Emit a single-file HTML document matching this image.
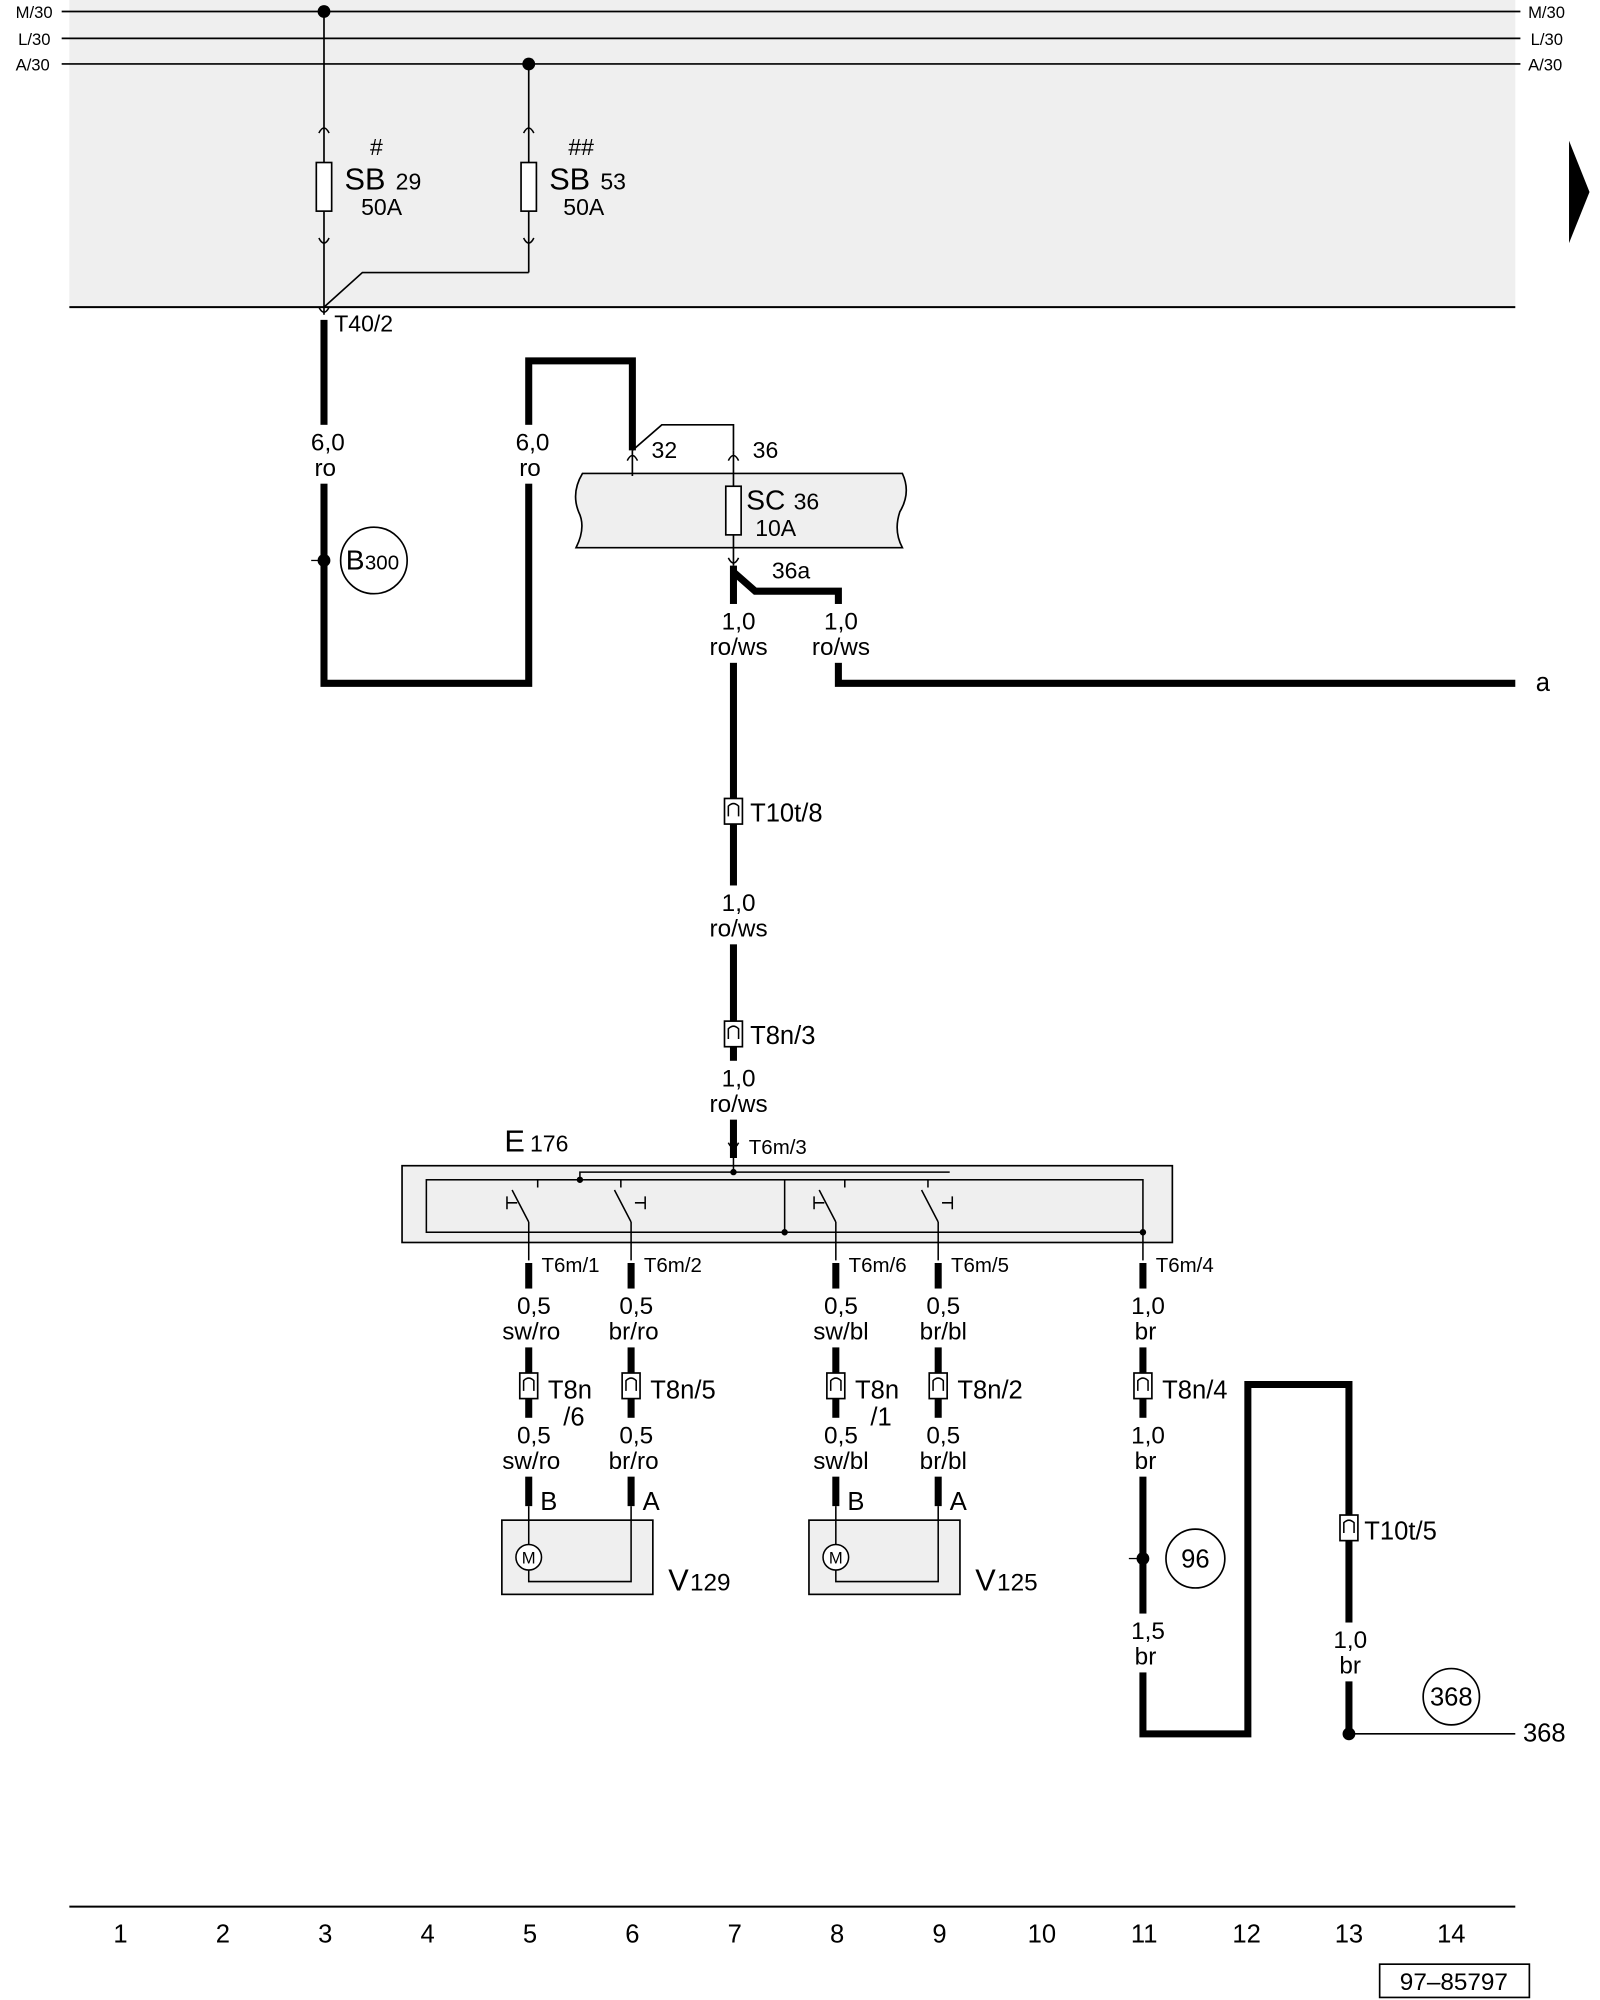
<!DOCTYPE html>
<html><head><meta charset="utf-8"><style>
html,body{margin:0;padding:0;background:#fff}
svg{display:block}
text{font-family:"Liberation Sans",Arial,sans-serif;fill:#000}
</style></head><body>
<svg width="1600" height="2000" viewBox="0 0 1250 1563" xmlns="http://www.w3.org/2000/svg">
<defs>
<g id="cup"><path d="M-4,4 Q0,-4 4,4" fill="none" stroke="#000" stroke-width="1.2"/></g>
<g id="conn"><rect x="-7" y="-10" width="14" height="20" fill="#fff" stroke="#000" stroke-width="1.3"/><path d="M-4,4 L-4,-4 Q0,-8 4,-4 L4,4" fill="none" stroke="#000" stroke-width="1.2"/></g>
</defs>
<rect x="54" y="0" width="1130" height="240" fill="#efefef"/>
<g stroke="#000" stroke-width="1.3">
<line x1="48" y1="9" x2="1188" y2="9"/><line x1="48" y1="30" x2="1188" y2="30"/><line x1="48" y1="50" x2="1188" y2="50"/>
<line x1="54" y1="240" x2="1184" y2="240" stroke-width="1.6"/>
</g>
<g font-size="13"><text x="12" y="14">M/30</text><text x="14" y="35">L/30</text><text x="12" y="55">A/30</text>
<text x="1194" y="14">M/30</text><text x="1196" y="35">L/30</text><text x="1194" y="55">A/30</text></g>
<polygon points="1226,110 1242,150 1226,190" fill="#000"/>
<circle cx="253" cy="9" r="5"/><circle cx="413" cy="50" r="5"/>
<g stroke="#000" stroke-width="1.3" fill="none">
<line x1="253" y1="9" x2="253" y2="246"/>
<line x1="413" y1="50" x2="413" y2="213"/><polyline points="413,213 283,213 253,240"/>
<rect x="247" y="127" width="12" height="38" fill="#fff"/><rect x="407" y="127" width="12" height="38" fill="#fff"/>
</g>
<use href="#cup" x="253" y="100"/><use href="#cup" x="413" y="100"/>
<path d="M249,186 Q253,194 257,186" fill="none" stroke="#000" stroke-width="1.2"/>
<path d="M409,186 Q413,194 417,186" fill="none" stroke="#000" stroke-width="1.2"/>
<path d="M249,240 Q253,248 257,240" fill="none" stroke="#000" stroke-width="1.2"/>
<text x="289" y="121" font-size="18">#</text><text x="269" y="148" font-size="24">SB</text><text x="309" y="148" font-size="18">29</text><text x="282" y="168" font-size="18">50A</text>
<text x="444" y="121" font-size="18">##</text><text x="429" y="148" font-size="24">SB</text><text x="469" y="148" font-size="18">53</text><text x="440" y="168" font-size="18">50A</text>
<text x="261" y="259" font-size="18">T40/2</text>
<g stroke="#000" stroke-width="5.5" fill="none" stroke-linejoin="miter">
<polyline points="253,250 253,534 413,534 413,282 494,282 494,352"/>
<polyline points="573,442 573,905"/>
<polyline points="573,447 590,462 655,462 655,534 1184,534"/>
</g>
<g fill="#fff">
<rect x="232" y="332" width="48" height="46"/><rect x="392" y="332" width="48" height="46"/>
<rect x="548" y="472" width="58" height="46"/><rect x="628" y="472" width="58" height="46"/>
<rect x="548" y="692" width="58" height="46"/><rect x="548" y="829" width="58" height="46"/>
</g>
<g font-size="19" text-anchor="middle">
<text x="256" y="352">6,0</text><text x="254" y="372">ro</text>
<text x="416" y="352">6,0</text><text x="414" y="372">ro</text>
<text x="577" y="492">1,0</text><text x="577" y="512">ro/ws</text>
<text x="657" y="492">1,0</text><text x="657" y="512">ro/ws</text>
<text x="577" y="712">1,0</text><text x="577" y="732">ro/ws</text>
<text x="577" y="849">1,0</text><text x="577" y="869">ro/ws</text>
</g>
<circle cx="292" cy="438" r="26" fill="#fff" stroke="#000" stroke-width="1.3"/>
<text x="270" y="445" font-size="22">B</text><text x="285" y="445" font-size="16">300</text>
<circle cx="253" cy="438" r="5"/><line x1="243" y1="438" x2="253" y2="438" stroke="#000"/>
<path d="M455,370 L705,370 Q712,385 703,400 Q698,415 705,428 L450,428 Q458,412 452,400 Q446,385 455,370Z" fill="#efefef" stroke="#000" stroke-width="1.3"/>
<g stroke="#000" stroke-width="1.3" fill="none"><polyline points="494,352 517,332 573,332 573,352"/><line x1="494" y1="352" x2="494" y2="372"/><line x1="573" y1="352" x2="573" y2="442"/>
<rect x="567" y="380" width="12" height="38" fill="#fff"/></g>
<use href="#cup" x="494" y="356"/><use href="#cup" x="573" y="356"/>
<path d="M569,436 Q573,444 577,436" fill="none" stroke="#000" stroke-width="1.2"/>
<text x="509" y="358" font-size="18">32</text><text x="588" y="358" font-size="18">36</text>
<text x="583" y="398" font-size="22">SC</text><text x="620" y="398" font-size="18">36</text><text x="590" y="419" font-size="18">10A</text>
<text x="603" y="452" font-size="18">36a</text>
<text x="1200" y="540" font-size="20">a</text>
<use href="#conn" x="573" y="634"/><text x="586" y="642" font-size="20">T10t/8</text>
<use href="#conn" x="573" y="808"/><text x="586" y="816" font-size="20">T8n/3</text>
<text x="394" y="900" font-size="24">E</text><text x="414" y="900" font-size="18">176</text>
<path d="M569,893 Q573,901 577,893" fill="none" stroke="#000" stroke-width="1.2"/>
<text x="585" y="902" font-size="16">T6m/3</text>
<rect x="314" y="911" width="602" height="60" fill="#efefef" stroke="#000" stroke-width="1.3"/>
<g stroke="#000" stroke-width="1.2" fill="none">
<rect x="333" y="922" width="560" height="41"/>
<line x1="573" y1="898" x2="573" y2="916"/>
<polyline points="420,928 420,922 485,922 485,928"/>
<polyline points="453,922 453,916 742,916"/>
<polyline points="660,928 660,922 725,922 725,928"/>
<line x1="613" y1="922" x2="613" y2="963"/>
<path d="M400,930 L413,955 M396,940 L404,940 M396,935 L396,945"/>
<path d="M480,930 L493,955 M504,940 L496,940 M504,935 L504,945"/>
<path d="M640,930 L653,955 M636,940 L644,940 M636,935 L636,945"/>
<path d="M720,930 L733,955 M744,940 L736,940 M744,935 L744,945"/>
</g>
<circle cx="573" cy="916" r="2.5"/><circle cx="453" cy="922" r="2.5"/><circle cx="613" cy="963" r="2.5"/><circle cx="893" cy="963" r="2.5"/>
<g stroke="#000" stroke-width="1.2">
<line x1="413" y1="955" x2="413" y2="985"/><line x1="493" y1="955" x2="493" y2="985"/><line x1="653" y1="955" x2="653" y2="985"/><line x1="733" y1="955" x2="733" y2="985"/><line x1="893" y1="963" x2="893" y2="985"/>
</g>
<g stroke="#000" stroke-width="5.5" fill="none">
<line x1="413" y1="987" x2="413" y2="1177"/><line x1="493" y1="987" x2="493" y2="1177"/>
<line x1="653" y1="987" x2="653" y2="1177"/><line x1="733" y1="987" x2="733" y2="1177"/>
<polyline points="893,987 893,1355 975,1355 975,1082 1054,1082 1054,1355"/>
</g>
<g font-size="16">
<text x="423" y="994">T6m/1</text><text x="503" y="994">T6m/2</text><text x="663" y="994">T6m/6</text><text x="743" y="994">T6m/5</text><text x="903" y="994">T6m/4</text>
</g>
<g fill="#fff">
<rect x="388" y="1007" width="56" height="46"/><rect x="468" y="1007" width="56" height="46"/><rect x="628" y="1007" width="56" height="46"/><rect x="708" y="1007" width="56" height="46"/><rect x="876" y="1007" width="40" height="46"/>
<rect x="388" y="1108" width="56" height="46"/><rect x="468" y="1108" width="56" height="46"/><rect x="628" y="1108" width="56" height="46"/><rect x="708" y="1108" width="56" height="46"/><rect x="876" y="1108" width="40" height="46"/>
<rect x="876" y="1261" width="40" height="46"/><rect x="1036" y="1268" width="40" height="46"/>
</g>
<g font-size="19" text-anchor="middle">
<text x="417" y="1027">0,5</text><text x="415" y="1047">sw/ro</text>
<text x="497" y="1027">0,5</text><text x="495" y="1047">br/ro</text>
<text x="657" y="1027">0,5</text><text x="657" y="1047">sw/bl</text>
<text x="737" y="1027">0,5</text><text x="737" y="1047">br/bl</text>
<text x="897" y="1027">1,0</text><text x="895" y="1047">br</text>
<text x="417" y="1128">0,5</text><text x="415" y="1148">sw/ro</text>
<text x="497" y="1128">0,5</text><text x="495" y="1148">br/ro</text>
<text x="657" y="1128">0,5</text><text x="657" y="1148">sw/bl</text>
<text x="737" y="1128">0,5</text><text x="737" y="1148">br/bl</text>
<text x="897" y="1128">1,0</text><text x="895" y="1148">br</text>
<text x="897" y="1281">1,5</text><text x="895" y="1301">br</text>
<text x="1055" y="1288">1,0</text><text x="1055" y="1308">br</text>
</g>
<use href="#conn" x="413" y="1083"/><use href="#conn" x="493" y="1083"/><use href="#conn" x="653" y="1083"/><use href="#conn" x="733" y="1083"/><use href="#conn" x="893" y="1083"/><use href="#conn" x="1054" y="1194"/>
<g font-size="20">
<text x="428" y="1093">T8n</text><text x="440" y="1114">/6</text><text x="508" y="1093">T8n/5</text>
<text x="668" y="1093">T8n</text><text x="680" y="1114">/1</text><text x="748" y="1093">T8n/2</text>
<text x="908" y="1093">T8n/4</text><text x="1066" y="1203">T10t/5</text>
<text x="422" y="1180">B</text><text x="502" y="1180">A</text><text x="662" y="1180">B</text><text x="742" y="1180">A</text>
</g>
<rect x="392" y="1188" width="118" height="58" fill="#efefef" stroke="#000" stroke-width="1.3"/>
<rect x="632" y="1188" width="118" height="58" fill="#efefef" stroke="#000" stroke-width="1.3"/>
<g stroke="#000" stroke-width="1.2" fill="none">
<polyline points="413,1177 413,1236 493,1236 493,1177"/>
<polyline points="653,1177 653,1236 733,1236 733,1177"/>
<circle cx="413" cy="1217" r="10" fill="#fff"/><circle cx="653" cy="1217" r="10" fill="#fff"/>
</g>
<text x="413" y="1222" font-size="13" text-anchor="middle">M</text><text x="653" y="1222" font-size="13" text-anchor="middle">M</text>
<text x="522" y="1243" font-size="24">V</text><text x="539" y="1243" font-size="19">129</text>
<text x="762" y="1243" font-size="24">V</text><text x="779" y="1243" font-size="19">125</text>
<circle cx="934" cy="1218" r="23" fill="#fff" stroke="#000" stroke-width="1.3"/><text x="934" y="1225" font-size="20" text-anchor="middle">96</text>
<circle cx="893" cy="1218" r="5"/><line x1="882" y1="1218" x2="893" y2="1218" stroke="#000"/>
<circle cx="1134" cy="1326" r="22" fill="#fff" stroke="#000" stroke-width="1.3"/><text x="1134" y="1333" font-size="20" text-anchor="middle">368</text>
<line x1="1054" y1="1355" x2="1184" y2="1355" stroke="#000" stroke-width="1.3"/><circle cx="1054" cy="1355" r="5"/>
<text x="1190" y="1361" font-size="20">368</text>
<line x1="54" y1="1490" x2="1184" y2="1490" stroke="#000" stroke-width="1.6"/>
<g font-size="20" text-anchor="middle">
<text x="94" y="1518">1</text><text x="174" y="1518">2</text><text x="254" y="1518">3</text><text x="334" y="1518">4</text><text x="414" y="1518">5</text><text x="494" y="1518">6</text><text x="574" y="1518">7</text><text x="654" y="1518">8</text><text x="734" y="1518">9</text><text x="814" y="1518">10</text><text x="894" y="1518">11</text><text x="974" y="1518">12</text><text x="1054" y="1518">13</text><text x="1134" y="1518">14</text>
</g>
<rect x="1078" y="1535" width="117" height="26" fill="#fff" stroke="#000" stroke-width="1.3"/>
<text x="1136" y="1555" font-size="19" text-anchor="middle">97–85797</text>
</svg>
</body></html>
